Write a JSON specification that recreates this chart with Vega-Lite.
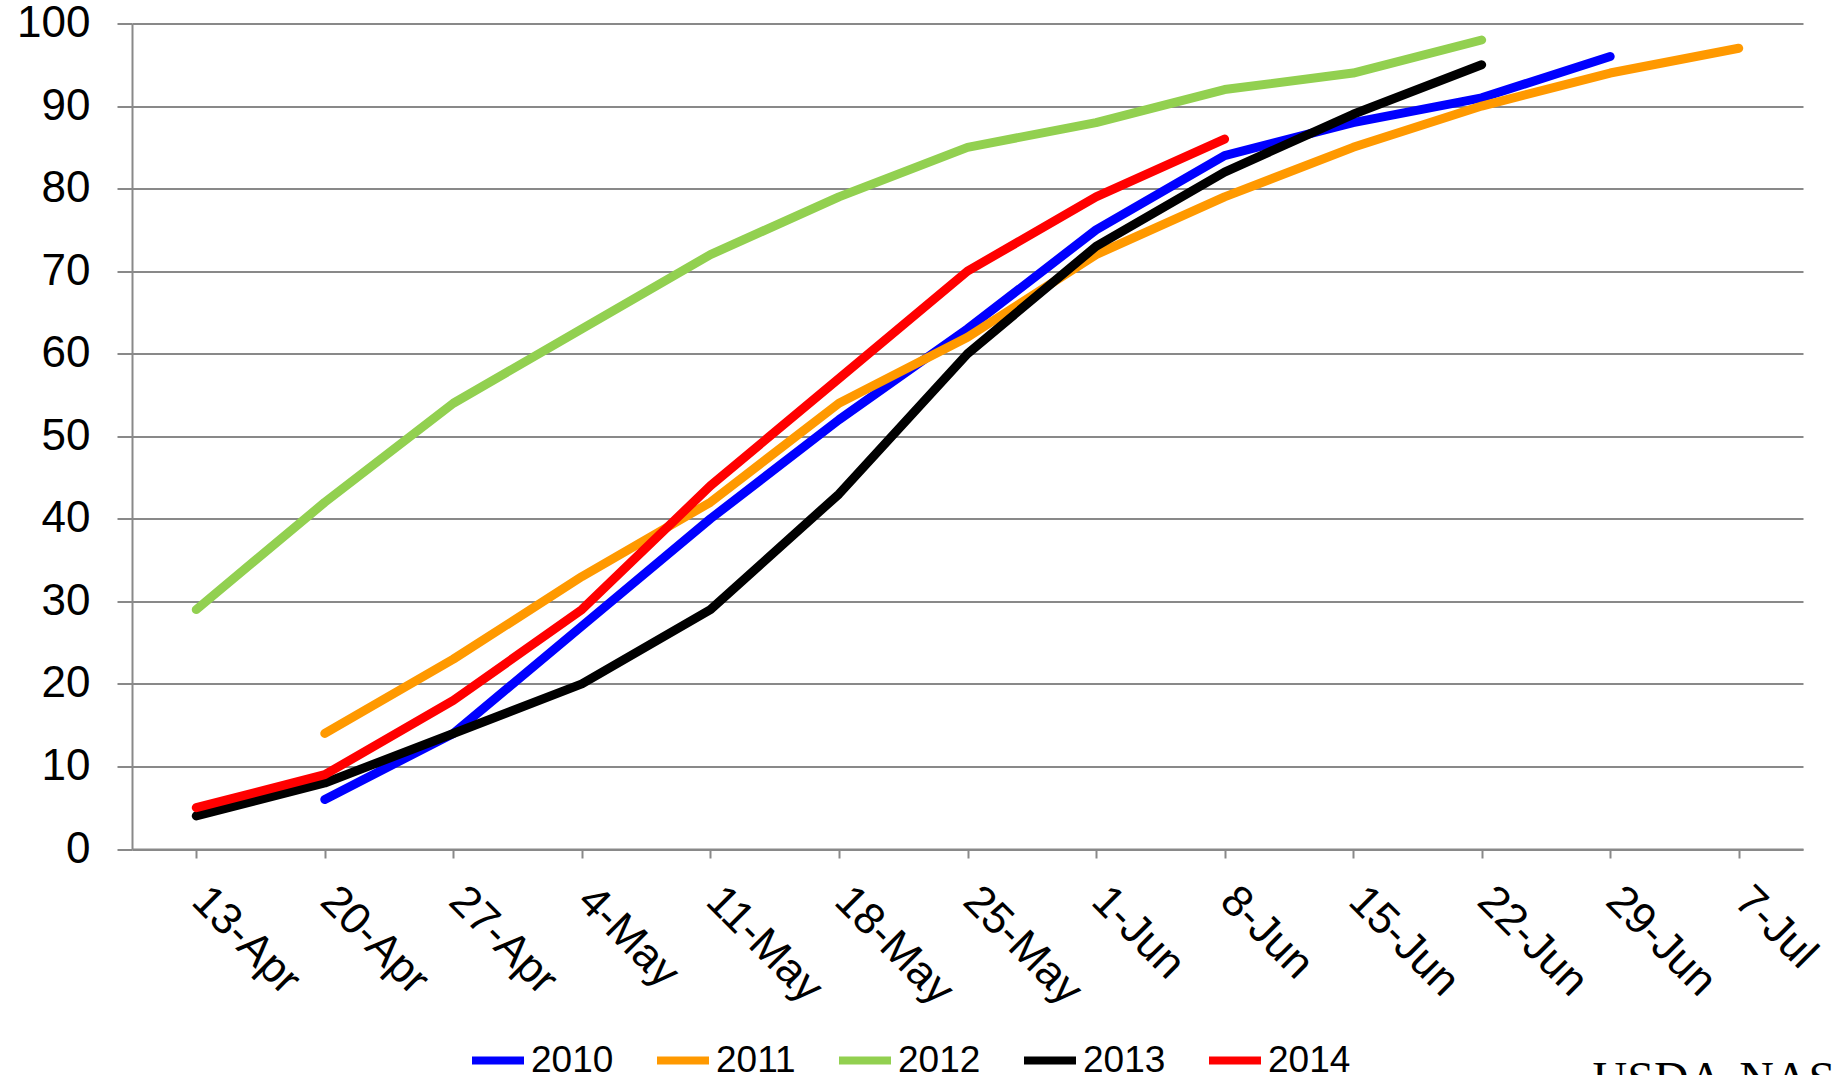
{
  "$schema": "https://vega.github.io/schema/vega-lite/v6.json",
  "autosize": {"type": "none"},
  "padding": {"left": 132, "top": 23.5, "right": 30, "bottom": 226},
  "width": 1671,
  "height": 825.5,
  "background": "white",
  "title": {
    "text": "USDA-NASS",
    "orient": "bottom",
    "anchor": "start",
    "dx": 1576,
    "offset": -22,
    "baseline": "top",
    "font": "Liberation Serif",
    "fontSize": 48,
    "fontWeight": "normal",
    "color": "black"
  },
  "data": {
    "values": [
      {"week": "20-Apr", "year": "2010", "value": 6},
      {"week": "27-Apr", "year": "2010", "value": 14},
      {"week": "4-May", "year": "2010", "value": 27},
      {"week": "11-May", "year": "2010", "value": 40},
      {"week": "18-May", "year": "2010", "value": 52},
      {"week": "25-May", "year": "2010", "value": 63},
      {"week": "1-Jun", "year": "2010", "value": 75},
      {"week": "8-Jun", "year": "2010", "value": 84},
      {"week": "15-Jun", "year": "2010", "value": 88},
      {"week": "22-Jun", "year": "2010", "value": 91},
      {"week": "29-Jun", "year": "2010", "value": 96},
      {"week": "20-Apr", "year": "2011", "value": 14},
      {"week": "27-Apr", "year": "2011", "value": 23},
      {"week": "4-May", "year": "2011", "value": 33},
      {"week": "11-May", "year": "2011", "value": 42},
      {"week": "18-May", "year": "2011", "value": 54},
      {"week": "25-May", "year": "2011", "value": 62},
      {"week": "1-Jun", "year": "2011", "value": 72},
      {"week": "8-Jun", "year": "2011", "value": 79},
      {"week": "15-Jun", "year": "2011", "value": 85},
      {"week": "22-Jun", "year": "2011", "value": 90},
      {"week": "29-Jun", "year": "2011", "value": 94},
      {"week": "7-Jul", "year": "2011", "value": 97},
      {"week": "13-Apr", "year": "2012", "value": 29},
      {"week": "20-Apr", "year": "2012", "value": 42},
      {"week": "27-Apr", "year": "2012", "value": 54},
      {"week": "4-May", "year": "2012", "value": 63},
      {"week": "11-May", "year": "2012", "value": 72},
      {"week": "18-May", "year": "2012", "value": 79},
      {"week": "25-May", "year": "2012", "value": 85},
      {"week": "1-Jun", "year": "2012", "value": 88},
      {"week": "8-Jun", "year": "2012", "value": 92},
      {"week": "15-Jun", "year": "2012", "value": 94},
      {"week": "22-Jun", "year": "2012", "value": 98},
      {"week": "13-Apr", "year": "2013", "value": 4},
      {"week": "20-Apr", "year": "2013", "value": 8},
      {"week": "27-Apr", "year": "2013", "value": 14},
      {"week": "4-May", "year": "2013", "value": 20},
      {"week": "11-May", "year": "2013", "value": 29},
      {"week": "18-May", "year": "2013", "value": 43},
      {"week": "25-May", "year": "2013", "value": 60},
      {"week": "1-Jun", "year": "2013", "value": 73},
      {"week": "8-Jun", "year": "2013", "value": 82},
      {"week": "15-Jun", "year": "2013", "value": 89},
      {"week": "22-Jun", "year": "2013", "value": 95},
      {"week": "13-Apr", "year": "2014", "value": 5},
      {"week": "20-Apr", "year": "2014", "value": 9},
      {"week": "27-Apr", "year": "2014", "value": 18},
      {"week": "4-May", "year": "2014", "value": 29},
      {"week": "11-May", "year": "2014", "value": 44},
      {"week": "18-May", "year": "2014", "value": 57},
      {"week": "25-May", "year": "2014", "value": 70},
      {"week": "1-Jun", "year": "2014", "value": 79},
      {"week": "8-Jun", "year": "2014", "value": 86}
    ]
  },
  "mark": {"type": "line", "strokeWidth": 9, "strokeCap": "round", "strokeJoin": "round"},
  "encoding": {
    "x": {
      "field": "week",
      "type": "ordinal",
      "sort": ["13-Apr", "20-Apr", "27-Apr", "4-May", "11-May", "18-May", "25-May", "1-Jun", "8-Jun", "15-Jun", "22-Jun", "29-Jun", "7-Jul"],
      "scale": {"type": "point", "padding": 0.5},
      "axis": {
        "title": null,
        "labelAngle": 45,
        "labelAlign": "left",
        "labelBaseline": "top",
        "labelFont": "Liberation Sans",
        "labelFontSize": 44,
        "labelColor": "black",
        "labelPadding": 20,
        "labelOffset": 18,
        "labelOverlap": false,
        "labelBound": false,
        "tickSize": 9,
        "tickColor": "#898989",
        "tickWidth": 2,
        "domainColor": "#898989",
        "domainWidth": 2,
        "grid": false
      }
    },
    "y": {
      "field": "value",
      "type": "quantitative",
      "scale": {"domain": [0, 100], "nice": false},
      "axis": {
        "title": null,
        "values": [0, 10, 20, 30, 40, 50, 60, 70, 80, 90, 100],
        "labelFont": "Liberation Sans",
        "labelFontSize": 44,
        "labelColor": "black",
        "labelPadding": 27,
        "tickSize": 15,
        "tickColor": "#898989",
        "tickWidth": 2,
        "domainColor": "#898989",
        "domainWidth": 2,
        "grid": true,
        "gridColor": "#898989",
        "gridWidth": 2
      }
    },
    "color": {
      "field": "year",
      "type": "nominal",
      "scale": {
        "domain": ["2010", "2011", "2012", "2013", "2014"],
        "range": ["#0000FF", "#FF9900", "#92D050", "#000000", "#FF0000"]
      },
      "legend": {
        "title": null,
        "orient": "none",
        "legendX": 336,
        "legendY": 1007,
        "direction": "horizontal",
        "symbolType": "stroke",
        "symbolSize": 2704,
        "symbolStrokeWidth": 8,
        "labelFont": "Liberation Sans",
        "labelFontSize": 37,
        "labelColor": "black",
        "labelOffset": 3,
        "columnPadding": 27
      }
    }
  },
  "config": {
    "view": {"stroke": null}
  }
}
